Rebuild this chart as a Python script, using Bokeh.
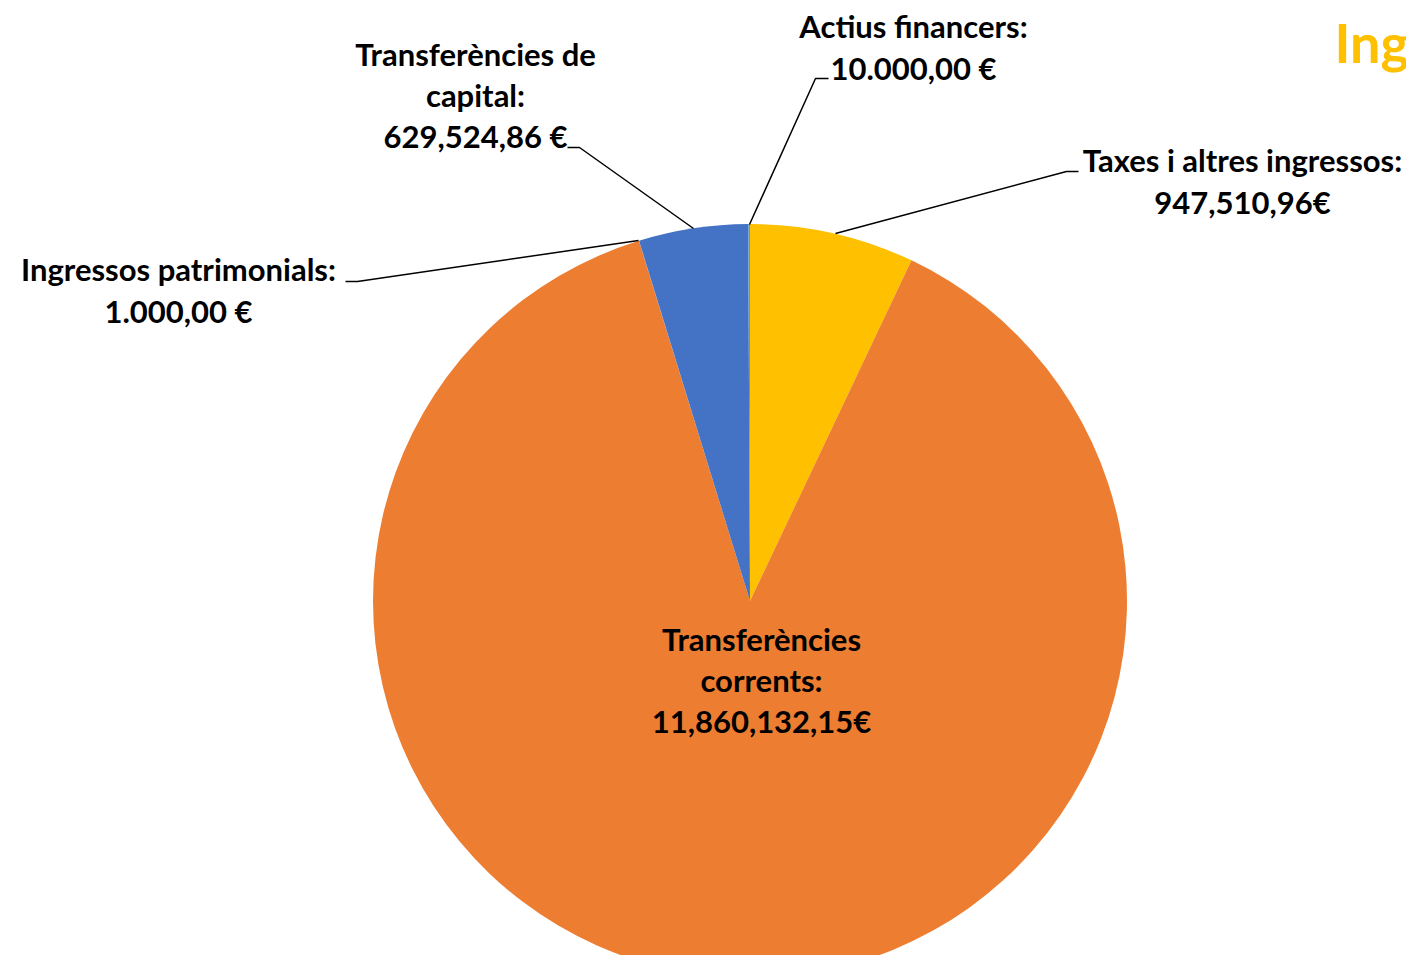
import math
from bokeh.plotting import figure
from bokeh.models import Range1d, ColumnDataSource
from bokeh.core.properties import value
from bokeh.embed import file_html
from bokeh.resources import INLINE

# ---- data ----
categories = ["Taxes i altres ingressos", "Transferències corrents", "Ingressos patrimonials",
              "Transferències de capital", "Actius financers"]
values = [947510.96, 11860132.15, 1000.00, 629524.86, 10000.00]
colors = ["#FFC000", "#ED7D31", "#A5A5A5", "#4472C4", "#5B9BD5"]
label_lines = [
    ["Taxes i altres ingressos:", "947,510,96€"],
    ["Transferències", "corrents:", "11,860,132,15€"],
    ["Ingressos patrimonials:", "1.000,00 €"],
    ["Transferències de", "capital:", "629,524,86 €"],
    ["Actius financers:", "10.000,00 €"],
]
title_text = "Ingressos"

# ---- layout (picture pixel coords) ----
H = 971
cx, cy, r = 749.5, 600.5, 377
label_pos = [(1242, 159), (761, 638), (178, 268), (475, 53), (913, 25)]
line_gap = [42, 41, 42, 41, 42]
leaders = [
    [(835, 233), (1066, 171), (1078, 171)],
    None,
    [(638, 240), (357, 281), (345, 281)],
    [(693, 228), (579, 147), (567, 147)],
    [(749, 224), (815, 78), (828, 78)],
]

p = figure(width=1406, height=955, output_backend="svg", toolbar_location=None,
           x_range=Range1d(0, 1406), y_range=Range1d(H - 955, H), min_border=0)
p.axis.visible = False
p.grid.visible = False
p.outline_line_color = None
p.background_fill_color = "white"

total = sum(values)
starts, ends = [], []
cum = 0.0
for v in values:
    starts.append(math.pi / 2 - 2 * math.pi * cum / total)
    cum += v
    ends.append(math.pi / 2 - 2 * math.pi * cum / total)

src = ColumnDataSource(dict(x=[cx] * len(values), y=[H - cy] * len(values),
                            start=starts, end=ends, color=colors))
p.wedge(x="x", y="y", radius=r, start_angle="start", end_angle="end",
        direction="clock", fill_color="color", line_color=None, source=src)

for pts in leaders:
    if pts is None:
        continue
    p.line([q[0] for q in pts], [H - q[1] for q in pts], line_color="black", line_width=1.5)

tx, ty, tt = [], [], []
for (lx, ly), lines, gap in zip(label_pos, label_lines, line_gap):
    for i, t in enumerate(lines):
        tx.append(lx)
        ty.append(H - (ly + i * gap))
        tt.append(t)
p.text(x=tx, y=ty, text=tt, text_align="center", text_baseline="middle",
       text_font=value("Lato"), text_font_style="bold", text_font_size="31px",
       text_color="black")

p.text(x=[1334], y=[H - 42], text=[title_text], text_align="left", text_baseline="middle",
       text_font=value("Lato"), text_font_style="bold", text_font_size="54px",
       text_color="#FFC000")

open("out.html", "w").write(file_html(p, INLINE))
